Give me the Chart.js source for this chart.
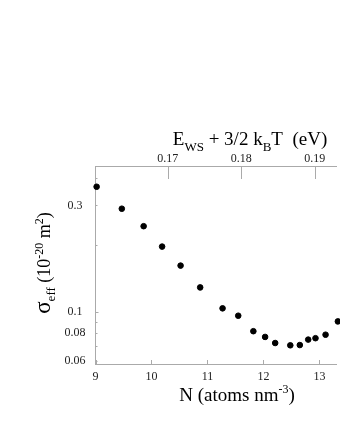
<!DOCTYPE html>
<html>
<head>
<script src="https://cdn.jsdelivr.net/npm/chart.js@4.4.0/dist/chart.umd.min.js"></script>
<style>
body{margin:0;background:#fff}
</style>
<script>
// N (atoms nm^-3) and sigma_eff (1e-20 m^2)
var density=[9.02,9.47,9.86,10.19,10.52,10.87,11.27,11.55,11.82,12.03,12.21,12.48,12.65,12.80,12.93,13.11,13.33];
var sigma=[0.364,0.290,0.242,0.196,0.161,0.1285,0.1035,0.0959,0.0817,0.0770,0.0723,0.0706,0.0708,0.0749,0.0760,0.0788,0.0904];
var nTicks=[9,10,11,12,13];
var eTicks=[0.17,0.18,0.19];
var sigmaTicks=[0.06,0.07,0.08,0.09,0.1,0.2,0.3,0.4];
var sigmaLabels=["0.06","","0.08","","0.1","","0.3",""];

var serif='"Liberation Serif", "Times New Roman", serif';

function rich(ctx,parts,x,y,rot){
	ctx.save();
	ctx.translate(x,y);
	if(rot) ctx.rotate(rot);
	var w=0;
	parts.forEach(function(p){ctx.font=p[1]+"px "+serif; w+=ctx.measureText(p[0]).width;});
	var cx=-w/2;
	ctx.fillStyle="#000";
	ctx.textBaseline="alphabetic";
	ctx.textAlign="left";
	parts.forEach(function(p){
		ctx.font=p[1]+"px "+serif;
		ctx.fillText(p[0],cx,p[2]);
		cx+=ctx.measureText(p[0]).width;
	});
	ctx.restore();
}

var extras={
	id:"extras",
	beforeDatasetsDraw:function(chart){
		var ctx=chart.ctx, a=chart.chartArea, s=chart.scales;
		ctx.save();
		ctx.strokeStyle="#aaa";
		ctx.lineWidth=1;
		ctx.beginPath();
		nTicks.forEach(function(v){
			var px=Math.round(s.x.getPixelForValue(v))+0.5;
			ctx.moveTo(px,a.bottom); ctx.lineTo(px,a.bottom-4);
		});
		eTicks.forEach(function(v){
			var px=Math.round(s.x2.getPixelForValue(v))+0.5;
			ctx.moveTo(px,a.top); ctx.lineTo(px,a.top+13);
		});
		sigmaTicks.forEach(function(v){
			var py=Math.round(s.y.getPixelForValue(v))+0.5;
			ctx.moveTo(a.left,py); ctx.lineTo(a.left+(v==0.1?3:2),py);
		});
		ctx.stroke();
		ctx.restore();
	},
	afterDraw:function(chart){
		var ctx=chart.ctx;
		rich(ctx,[["E",19,0],["WS",13,6],[" + 3/2 k",19,0],["B",13,6],["T  (eV)",19,0]],250,145);
		rich(ctx,[["N (atoms nm",19,0],["-3",12,-8],[")",19,0]],237,401);
		rich(ctx,[["\u03c3",23,0],["eff",13,5],[" (10",18,0],["-20",12,-7],[" m",18,0],["2",12,-7],[")",18,0]],50,263,-Math.PI/2);
	}
};

function drawChart(){
	var pts=density.map(function(n,i){return {x:n,y:sigma[i]};});
	var tickFont={family:serif,size:12};
	new Chart("myChart",{
		type:"scatter",
		data:{datasets:[{
			data:pts,
			backgroundColor:"#000",
			borderColor:"#000",
			pointRadius:2.8,
			pointHoverRadius:2.8,
			clip:false
		}]},
		options:{
			responsive:false,
			animation:false,
			events:[],
			layout:{padding:0},
			plugins:{legend:{display:false},tooltip:{enabled:false}},
			scales:{
				x:{
					type:"linear",position:"bottom",min:9,max:13.3,
					afterBuildTicks:function(sc){sc.ticks=nTicks.map(function(v){return {value:v};});},
					afterFit:function(sc){sc.height=76;},
					grid:{display:false,drawTicks:false},
					border:{color:"#aaa",width:1},
					ticks:{font:tickFont,color:"#222",padding:6,maxRotation:0,callback:function(v){return String(v);}}
				},
				x2:{
					type:"linear",position:"top",min:0.16016,max:0.19291,
					afterBuildTicks:function(sc){sc.ticks=eTicks.map(function(v){return {value:v};});},
					afterFit:function(sc){sc.height=166;},
					grid:{display:false,drawTicks:false},
					border:{color:"#aaa",width:1},
					ticks:{font:tickFont,color:"#222",padding:0,maxRotation:0,callback:function(v){return v.toFixed(2);}}
				},
				y:{
					type:"logarithmic",position:"left",min:0.0582,max:0.451,
					afterBuildTicks:function(sc){sc.ticks=sigmaTicks.map(function(v){return {value:v};});},
					afterFit:function(sc){sc.width=95.5;},
					grid:{display:false,drawTicks:false},
					border:{color:"#aaa",width:1},
					ticks:{font:tickFont,color:"#222",padding:10,crossAlign:"center",autoSkip:false,
						callback:function(v,i){return sigmaLabels[i];}}
				}
			}
		},
		plugins:[extras]
	});
}
window.onload=drawChart;
</script>
</head>
<body>
<canvas id="myChart" width="340" height="440"></canvas>
</body>
</html>
